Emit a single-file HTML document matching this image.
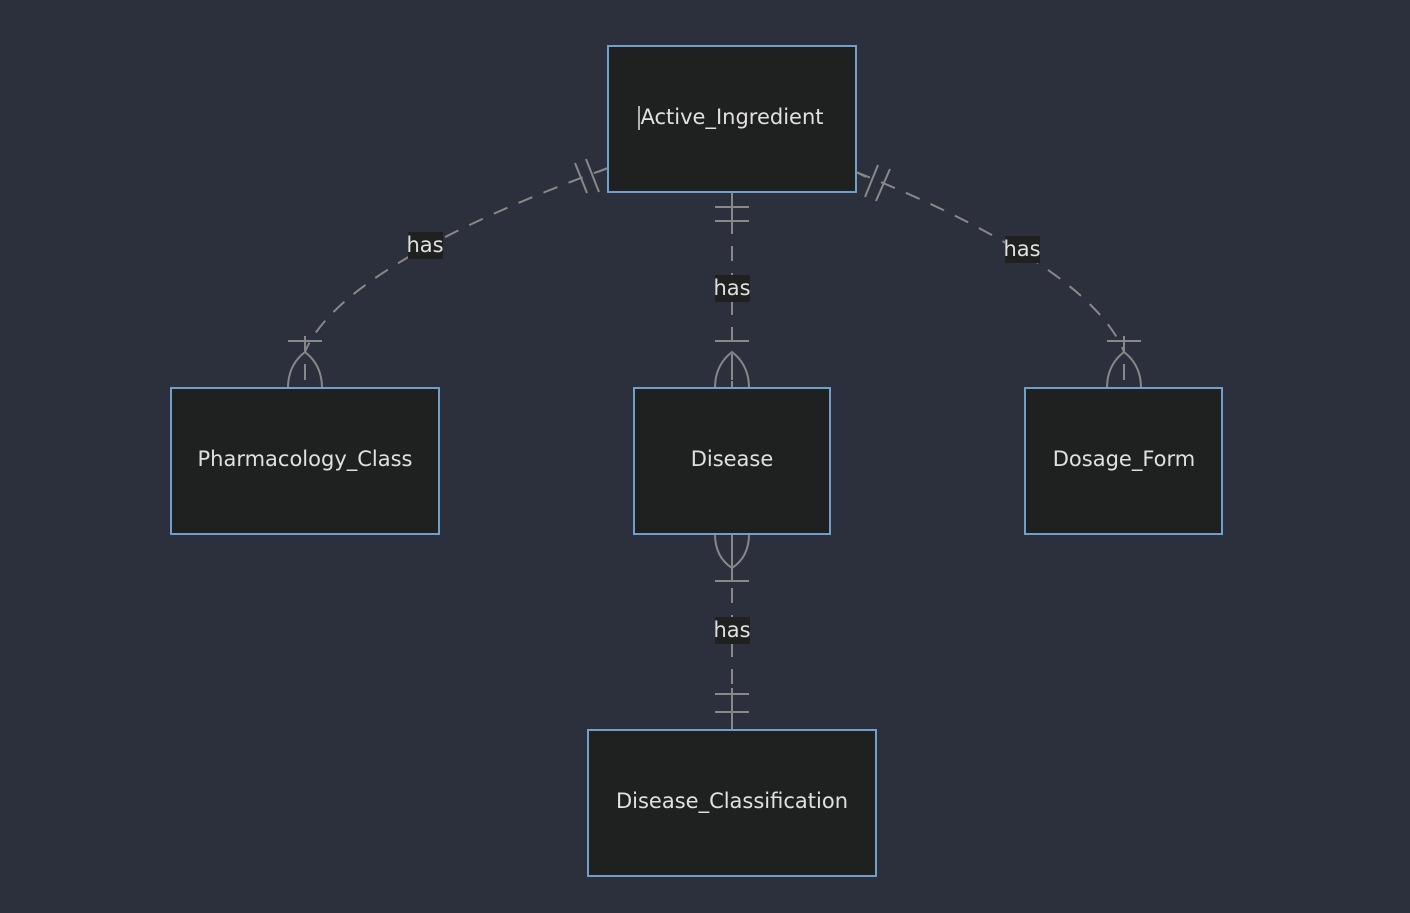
<!DOCTYPE html>
<html><head><meta charset="utf-8"><style>
html,body{margin:0;padding:0;background:#2b303c;}
svg{display:block}
text{font-family:"DejaVu Sans","Liberation Sans",sans-serif;font-size:21px;fill:#e0e0e0;}
</style></head><body>
<svg width="1410" height="913" viewBox="0 0 1410 913">
<rect width="1410" height="913" fill="#2b303c"/>
<g fill="none" stroke="#888" stroke-width="2">
 <path d="M608,168 C450,225 330,290 305,352" stroke-dasharray="15,12"/>
 <path d="M856,172 C990,225 1100,290 1124,352" stroke-dasharray="15,12"/>
 <path d="M732,192 L732,388" stroke-dasharray="15,12"/>
 <path d="M732,534 L732,730" stroke-dasharray="15,12"/>
 <line x1="575" y1="163" x2="587" y2="193"/><line x1="586" y1="159" x2="599" y2="192"/>
 <line x1="598" y1="172" x2="608" y2="168"/>
 <line x1="878" y1="165" x2="865" y2="197"/><line x1="890" y1="169" x2="876" y2="201"/>
 <line x1="856" y1="172" x2="866" y2="177"/>
 <line x1="715" y1="207" x2="749" y2="207"/><line x1="715" y1="221" x2="749" y2="221"/>
 <line x1="732" y1="192" x2="732" y2="221"/>
 <g>
  <line x1="288" y1="341" x2="322" y2="341"/>
  <path d="M288,388 Q288,365 305,352 Q322,365 322,388"/>
  <line x1="305" y1="364" x2="305" y2="380"/>
  <line x1="305" y1="336" x2="305" y2="352"/>
 </g>
 <g>
  <line x1="715" y1="341" x2="749" y2="341"/>
  <path d="M715,388 Q715,365 732,352 Q749,365 749,388"/>
  <line x1="732" y1="364" x2="732" y2="380"/>
 </g>
 <g>
  <line x1="1107" y1="341" x2="1141" y2="341"/>
  <path d="M1107,388 Q1107,365 1124,352 Q1141,365 1141,388"/>
  <line x1="1124" y1="364" x2="1124" y2="380"/>
  <line x1="1124" y1="336" x2="1124" y2="352"/>
 </g>
 <line x1="715" y1="581" x2="749" y2="581"/>
 <path d="M715,534 Q715,557 732,568 Q749,557 749,534"/>
 <line x1="732" y1="536" x2="732" y2="581"/>
 <line x1="715" y1="694" x2="749" y2="694"/><line x1="715" y1="712" x2="749" y2="712"/>
 <line x1="732" y1="688" x2="732" y2="730"/>
</g>
<g fill="#1f2020" stroke="#6fa0cc" stroke-width="2">
 <rect x="608" y="46" width="248" height="146"/>
 <rect x="171" y="388" width="268" height="146"/>
 <rect x="634" y="388" width="196" height="146"/>
 <rect x="1025" y="388" width="197" height="146"/>
 <rect x="588" y="730" width="288" height="146"/>
</g>
<g fill="#1f2020">
 <rect x="408" y="232" width="35" height="27"/>
 <rect x="1005" y="236" width="35" height="27"/>
 <rect x="715" y="275" width="35" height="27"/>
 <rect x="715" y="617" width="35" height="27"/>
</g>
<g text-anchor="middle">
 <text x="732" y="124">Active_Ingredient</text>
 <text x="305" y="466">Pharmacology_Class</text>
 <text x="732" y="466">Disease</text>
 <text x="1124" y="466">Dosage_Form</text>
 <text x="732" y="808">Disease_Classification</text>
 <text x="425" y="252">has</text>
 <text x="1022" y="256">has</text>
 <text x="732" y="295">has</text>
 <text x="732" y="637">has</text>
</g>
<line x1="639" y1="106" x2="639" y2="130" stroke="#e0e0e0" stroke-width="1.5"/>
</svg>
</body></html>
